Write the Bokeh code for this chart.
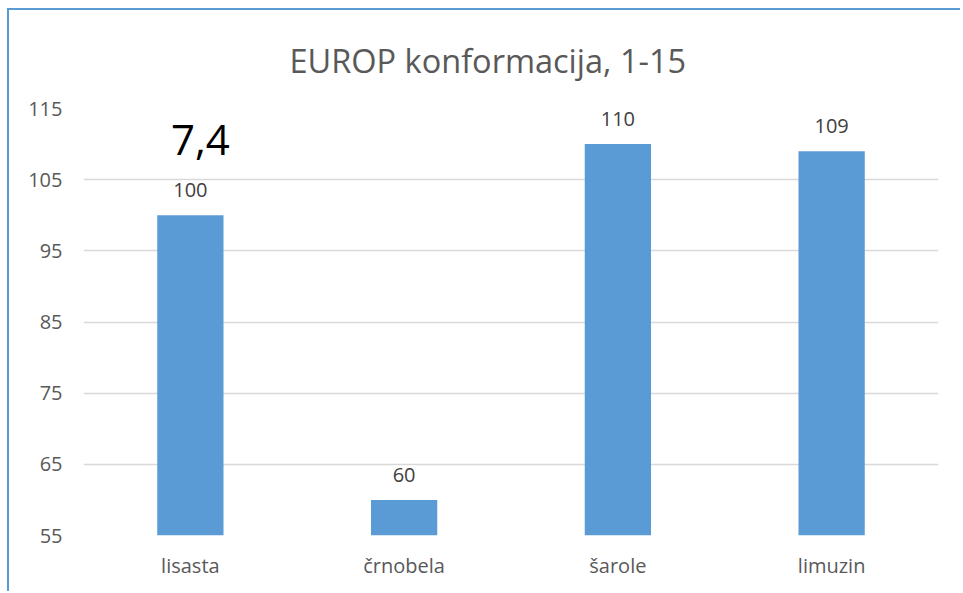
from bokeh.plotting import figure
from bokeh.models import ColumnDataSource, LabelSet, FixedTicker, Range1d
from bokeh.embed import file_html
from bokeh.resources import INLINE
from bokeh.core.properties import value

categories = ["lisasta", "črnobela", "šarole", "limuzin"]
values = [100, 60, 110, 109]
y_ticks = [55, 65, 75, 85, 95, 105, 115]
title_text = "EUROP konformacija, 1-15"
note_text = "7,4"

FONT = "Open Sans"
source = ColumnDataSource(dict(cat=categories, val=values, lab=[str(v) for v in values]))
note_source = ColumnDataSource(dict(cat=[categories[0]], val=[values[0]], lab=[note_text]))

p = figure(x_range=categories, y_range=Range1d(y_ticks[0], y_ticks[-1]), width=953, height=583,
           output_backend="svg", toolbar_location=None,
           min_border_left=74, min_border_right=24, min_border_top=98, min_border_bottom=58)
p.styles = {"border-top": "2px solid #5B9BD5", "border-left": "2px solid #5B9BD5",
            "margin-top": "8px", "margin-left": "7px"}

p.vbar(x="cat", top="val", bottom=y_ticks[0], width=0.31, source=source,
       fill_color="#5B9BD5", line_color=None)

labels = LabelSet(x="cat", y="val", text="lab", source=source, text_align="center",
                  text_baseline="alphabetic", y_offset=18, text_font=value(FONT),
                  text_font_size="20px", text_color="#404040")
p.add_layout(labels)

note = LabelSet(x="cat", y="val", text="lab", source=note_source, text_align="center",
                text_baseline="alphabetic", x_offset=10, y_offset=60, text_font=value(FONT),
                text_font_size="42px", text_color="#000000")
p.add_layout(note)

p.title.text = title_text
p.title.align = "left"
p.title.offset = 206
p.title.vertical_align = "top"
p.title.standoff = 48
p.title.text_font = FONT
p.title.text_font_size = "32.5px"
p.title.text_font_style = "normal"
p.title.text_color = "#595959"

p.outline_line_color = None
p.xgrid.grid_line_color = None
p.ygrid.grid_line_color = "#D9D9D9"
p.ygrid.grid_line_width = 1.5
p.yaxis.ticker = FixedTicker(ticks=y_ticks)

for ax in (p.xaxis, p.yaxis):
    ax.axis_line_color = None
    ax.major_tick_line_color = None
    ax.minor_tick_line_color = None
    ax.major_label_text_font = FONT
    ax.major_label_text_font_size = "20px"
    ax.major_label_text_color = "#595959"
p.yaxis.major_label_standoff = 15
p.xaxis.major_label_standoff = 10
p.x_range.range_padding = 0

open("out.html", "w").write(file_html(p, INLINE))
